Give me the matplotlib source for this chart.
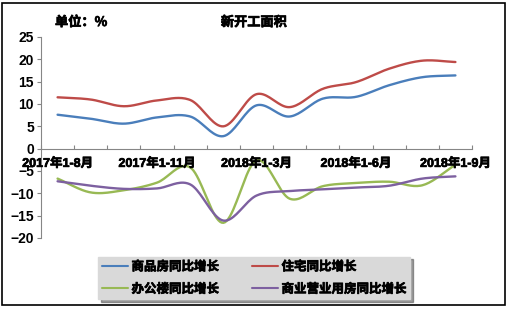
import numpy as np
import matplotlib
matplotlib.use("Agg")
import matplotlib.pyplot as plt
from matplotlib.patches import Rectangle
import matplotlib.patheffects as pe

plt.rcParams['font.family'] = ['Noto Sans CJK SC', 'DejaVu Sans']

categories = ["2017年1-8月", "2017年1-9月", "2017年1-10月", "2017年1-11月", "2017年1-12月",
              "2018年1-2月", "2018年1-3月", "2018年1-4月", "2018年1-5月", "2018年1-6月",
              "2018年1-7月", "2018年1-8月", "2018年1-9月"]
shown_ticks = ["2017年1-8月", "2017年1-11月", "2018年1-3月", "2018年1-6月", "2018年1-9月"]

commercial = [7.6, 6.7, 5.6, 7.0, 7.2, 2.8, 9.7, 7.2, 11.2, 11.6, 14.2, 16.0, 16.4]
residential = [11.5, 11.0, 9.5, 10.8, 10.9, 5.0, 12.2, 9.3, 13.4, 14.9, 17.9, 19.7, 19.4]
office = [-6.7, -9.8, -9.3, -7.6, -4.2, -16.6, -2.6, -11.2, -8.4, -7.7, -7.4, -8.2, -3.6]
retail = [-7.3, -8.3, -9.0, -8.9, -8.0, -16.1, -10.5, -9.5, -9.1, -8.7, -8.3, -6.7, -6.2]

series_names = ["商品房同比增长", "住宅同比增长", "办公楼同比增长", "商业营业用房同比增长"]
colors = ["#4a7ebb", "#be4b48", "#98b954", "#7d60a0"]

bold_fx = [pe.withStroke(linewidth=0.5, foreground='black')]


def smooth(xs, ys, n=20):
    xs = np.asarray(xs, float)
    ys = np.asarray(ys, float)
    px = np.concatenate([[2 * xs[0] - xs[1]], xs, [2 * xs[-1] - xs[-2]]])
    py = np.concatenate([[2 * ys[0] - ys[1]], ys, [2 * ys[-1] - ys[-2]]])
    ox, oy = [], []
    t = np.linspace(0, 1, n, endpoint=False)
    for i in range(1, len(px) - 2):
        for arr, src in ((ox, px), (oy, py)):
            a0, a1, a2, a3 = src[i - 1], src[i], src[i + 1], src[i + 2]
            arr.extend(0.5 * ((2 * a1) + (-a0 + a2) * t + (2 * a0 - 5 * a1 + 4 * a2 - a3) * t ** 2
                              + (-a0 + 3 * a1 - 3 * a2 + a3) * t ** 3))
    ox.append(xs[-1])
    oy.append(ys[-1])
    return np.array(ox), np.array(oy)


W, H = 511, 310
fig = plt.figure(figsize=(W / 100, H / 100), dpi=100)
ax = fig.add_axes([41 / W, 1 - 238 / H, (472 - 41) / W, (238 - 37) / H])

x = np.arange(len(categories))
handles = []
for name, vals, c in zip(series_names, [commercial, residential, office, retail], colors):
    sx, sy = smooth(x, vals)
    h, = ax.plot(sx, sy, color=c, lw=1.7, label=name, solid_capstyle='round')
    handles.append(h)

ax.set_xlim(-0.5, len(categories) - 0.5)
ax.set_ylim(-20, 25)
ax.set_yticks(np.arange(-20, 26, 5))
ax.tick_params(axis='y', direction='out', length=3, color='#868686', pad=2, labelsize=10)
for lab in ax.get_yticklabels():
    lab.set_fontfamily(['Liberation Sans', 'DejaVu Sans'])
    lab.set_fontweight('bold')

for s in ['top', 'right']:
    ax.spines[s].set_visible(False)
ax.spines['left'].set_color('#868686')
ax.spines['bottom'].set_color('#868686')
ax.spines['bottom'].set_position(('data', 0))
ax.set_xticks(np.arange(-0.5, len(categories), 1))
ax.set_xticklabels([])
ax.tick_params(axis='x', direction='in', length=3, color='#868686')

for lab in shown_ticks:
    i = categories.index(lab)
    ax.text(i, -3.4, lab, ha='center', va='center', fontsize=9, fontweight='bold',
            family=['Liberation Sans', 'Noto Sans CJK SC'], path_effects=bold_fx)

fig.text(254 / W, 1 - 22 / H, "新开工面积", ha='center', va='center', fontsize=9.5,
         fontweight='bold', path_effects=bold_fx)
fig.text(55 / W, 1 - 22 / H, "单位：%", ha='left', va='center', fontsize=9.5,
         fontweight='bold', path_effects=bold_fx)

order = [0, 2, 1, 3]
leg = fig.legend([handles[i] for i in order], [series_names[i] for i in order],
                 loc='center', bbox_to_anchor=(254 / W, 1 - 278 / H), ncol=2,
                 frameon=True, fancybox=False, shadow=True, handlelength=2.1, columnspacing=2.6,
                 handletextpad=0.3, borderpad=0.3, labelspacing=0.75,
                 prop={'weight': 'bold', 'size': 9})
leg.get_frame().set_facecolor('#d9d9d9')
leg.get_frame().set_edgecolor('#d9d9d9')
for line in leg.get_lines():
    line.set_linewidth(1.5)
for t in leg.get_texts():
    t.set_path_effects(bold_fx)

fig.patches.append(Rectangle((2 / W, 1 - 305 / H), 503 / W, 302 / H, transform=fig.transFigure,
                             fill=False, edgecolor='black', lw=1.2))

fig.savefig("out.png", dpi=100)
